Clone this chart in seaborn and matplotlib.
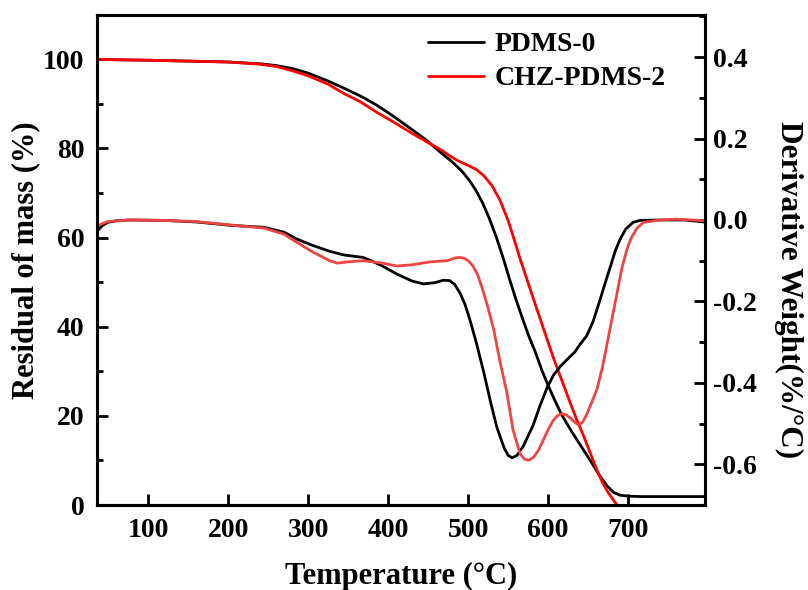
import numpy as np
import pandas as pd
import seaborn as sns
import matplotlib.pyplot as plt
from matplotlib.ticker import MultipleLocator

# TG curves (residual mass, %)
t_tg_pdms0 = [36, 60, 100, 150, 200, 240, 260, 281, 300, 324, 345, 365, 385, 406, 427, 449, 465, 480,
              490, 495, 502, 510, 518, 526, 535, 544, 552, 560, 568, 576, 584, 592, 600, 608, 617,
              630, 644, 655, 665, 674, 682, 690, 700, 715, 740, 770, 796]
tg_pdms0 = [100.0, 99.9, 99.8, 99.6, 99.4, 99.0, 98.6, 97.9, 96.9, 95.2, 93.5, 91.8, 89.8, 87.3, 84.6,
            81.7, 79.2, 77.0, 75.3, 74.3, 72.7, 70.5, 67.8, 64.5, 60.2, 55.3, 50.5, 46.0, 41.8, 37.8,
            34.3, 30.3, 26.8, 23.6, 20.2, 16.3, 12.4, 9.3, 6.4, 4.2, 2.8, 2.2, 2.0, 1.9, 1.9, 1.9, 1.9]

t_tg_chz = [36, 60, 100, 150, 200, 240, 260, 281, 300, 324, 345, 365, 385, 406, 427, 449, 465, 480,
            490, 500, 510, 520, 530, 540, 550, 555, 565, 575, 586, 596, 606, 617, 627, 636, 645, 653,
            661, 668, 675, 686]
tg_chz = [100.0, 99.9, 99.8, 99.6, 99.4, 98.9, 98.4, 97.4, 96.3, 94.5, 92.3, 90.5, 88.2, 86.0, 83.7,
          81.4, 79.8, 78.0, 77.0, 76.2, 75.3, 73.8, 71.6, 68.3, 63.8, 61.0, 55.2, 49.8, 43.9, 38.6,
          33.3, 28.0, 23.2, 19.0, 15.2, 11.5, 7.8, 5.0, 2.8, 0.0]

# DTG curves (%/°C)
t_dtg_pdms0 = [36, 42, 49, 60, 77, 120, 161, 202, 245, 270, 286, 305, 327, 345, 361, 369, 390, 411,
               430, 444, 458, 469, 477, 483, 490, 496, 502, 510, 519, 528, 536, 545, 550, 555, 561,
               569, 575, 581, 590, 599, 607, 615, 625, 633, 640, 648, 656, 665, 672, 678, 684, 690,
               697, 706, 715, 740, 770, 796]
dtg_pdms0 = [-0.028, -0.015, -0.006, -0.002, 0.0, -0.001, -0.005, -0.013, -0.018, -0.03, -0.047,
             -0.062, -0.077, -0.086, -0.09, -0.092, -0.11, -0.133, -0.15, -0.157, -0.154, -0.148,
             -0.149, -0.158, -0.18, -0.207, -0.244, -0.3, -0.37, -0.447, -0.51, -0.56, -0.578, -0.584,
             -0.578, -0.555, -0.53, -0.505, -0.455, -0.41, -0.38, -0.36, -0.34, -0.325, -0.305,
             -0.285, -0.25, -0.195, -0.15, -0.113, -0.075, -0.047, -0.022, -0.006, -0.001, 0.0, 0.0,
             -0.005]

t_dtg_chz = [36, 49, 77, 120, 161, 202, 245, 270, 286, 305, 327, 336, 349, 369, 390, 411, 430, 452,
             474, 484, 490, 495, 500, 506, 512, 518, 524, 532, 540, 548, 556, 565, 571, 576, 582, 588,
             594, 600, 606, 612, 617, 622, 628, 634, 638, 643, 648, 654, 661, 668, 674, 680, 686, 692,
             698, 703, 711, 719, 740, 760, 780, 796]
dtg_chz = [-0.015, -0.004, 0.0, -0.001, -0.004, -0.012, -0.02, -0.035, -0.055, -0.078, -0.1, -0.106,
           -0.103, -0.1, -0.105, -0.113, -0.11, -0.103, -0.1, -0.093, -0.092, -0.094, -0.1, -0.113,
           -0.135, -0.17, -0.21, -0.27, -0.35, -0.42, -0.515, -0.575, -0.588, -0.59, -0.582, -0.565,
           -0.54, -0.515, -0.493, -0.48, -0.476, -0.478, -0.487, -0.498, -0.503, -0.497, -0.478,
           -0.45, -0.415, -0.36, -0.3, -0.24, -0.18, -0.12, -0.075, -0.047, -0.02, -0.006, 0.0,
           0.002, 0.0, -0.002]

sns.set_style("ticks")
plt.rcParams['font.family'] = ['Liberation Serif', 'DejaVu Serif']
plt.rcParams['font.weight'] = 'bold'
plt.rcParams['axes.labelweight'] = 'bold'
plt.rcParams['axes.unicode_minus'] = False
for k in ['text.color', 'axes.labelcolor', 'xtick.color', 'ytick.color', 'axes.edgecolor']:
    plt.rcParams[k] = 'black'

fig = plt.figure(figsize=(8.08, 5.90), dpi=100)
ax = fig.add_axes([0.120, 0.144, 0.7525, 0.831])
ax2 = ax.twinx()

sns.lineplot(x=t_tg_pdms0, y=tg_pdms0, ax=ax, color='black', lw=2, label='PDMS-0')
sns.lineplot(x=t_tg_chz, y=tg_chz, ax=ax, color='#FF0000', lw=2, label='CHZ-PDMS-2')
sns.lineplot(x=t_dtg_pdms0, y=dtg_pdms0, ax=ax2, color='black', lw=2, legend=False)
sns.lineplot(x=t_dtg_chz, y=dtg_chz, ax=ax2, color='#EE4444', lw=2, legend=False)

ax.set_xlim(36, 796)
ax.set_ylim(0, 110)
ax2.set_ylim(-0.7, 0.504)

ax.set_xticks(range(100, 800, 100))
ax.set_yticks(range(0, 101, 20))
ax.yaxis.set_minor_locator(MultipleLocator(10))
ax2.set_yticks([-0.6, -0.4, -0.2, 0.0, 0.2, 0.4])
ax2.yaxis.set_minor_locator(MultipleLocator(0.1))

for a in (ax, ax2):
    for s in a.spines.values():
        s.set_linewidth(2.2)
        s.set_visible(True)
        s.set_color('black')
    a.tick_params(which='major', direction='in', length=8, width=2, labelsize=20)
    a.tick_params(which='minor', direction='in', length=4.5, width=2)
ax.tick_params(axis='y', pad=9)
ax.tick_params(axis='x', pad=9)
ax2.tick_params(axis='y', pad=6)

ax.set_xlabel('Temperature (°C)', fontsize=22, labelpad=14)
ax.set_ylabel('Residual of mass (%)', fontsize=22)
ax.yaxis.set_label_coords((40 - 97) / 608, 0.5)
ax2.set_ylabel('Derivative Weight(%/°C)', fontsize=22.5, rotation=270)
ax2.yaxis.set_label_coords((803 - 97) / 608, (505 - 290) / 490)

handles, labels = ax.get_legend_handles_labels()
ax.get_legend().remove()
ax2.legend(handles, labels, loc='upper left', bbox_to_anchor=(428 / 808, 1 - 32 / 590),
           bbox_transform=fig.transFigure, frameon=False, fontsize=20, handlelength=2.0,
           handletextpad=0.4, labelspacing=0.3, borderpad=0, borderaxespad=0)

fig.savefig('out.png', dpi=100)
